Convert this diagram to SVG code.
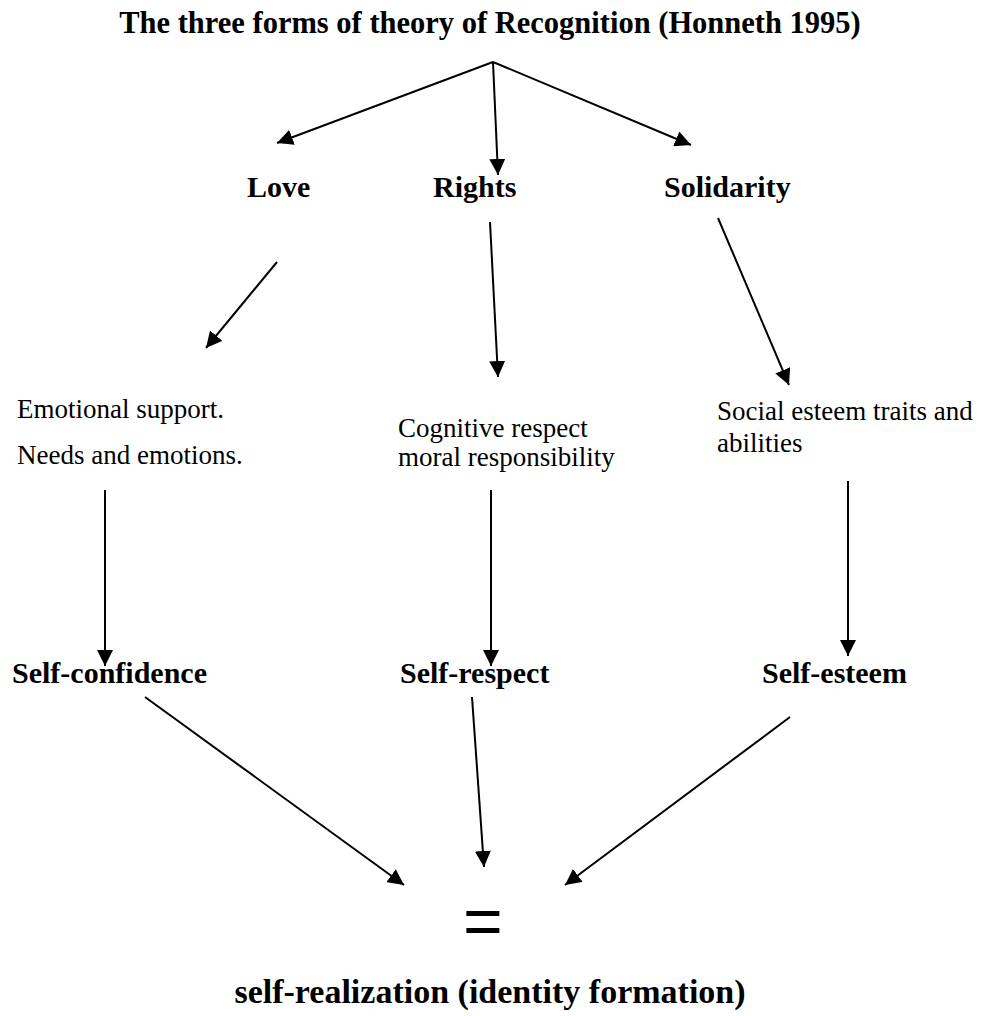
<svg xmlns="http://www.w3.org/2000/svg" width="981" height="1016" viewBox="0 0 981 1016">
<style>
.b{font-family:"Liberation Serif","Times New Roman",serif;font-weight:bold;font-size:30px;fill:#000}
.r{font-family:"Liberation Serif","Times New Roman",serif;font-size:27px;fill:#000}
.eq{font-family:"Liberation Sans",Arial,sans-serif;font-size:68px;fill:#000}
.c line{stroke:#000;stroke-width:2;marker-end:url(#ah)}
</style>
<defs>
<marker id="ah" markerUnits="userSpaceOnUse" markerWidth="17" markerHeight="16" refX="16" refY="8" orient="auto" viewBox="0 0 17 16">
<path d="M0,0 L16,8 L0,16 z" fill="#000"/>
</marker>
</defs>
<rect width="981" height="1016" fill="#fff"/>
<g id="title"><text class="b" x="490" y="33" text-anchor="middle" style="font-size:30.5px">The three forms of theory of Recognition (Honneth 1995)</text></g>
<g id="love"><text class="b" x="247" y="197">Love</text></g>
<g id="rights"><text class="b" x="433" y="197">Rights</text></g>
<g id="solidarity"><text class="b" x="664" y="197">Solidarity</text></g>
<g id="emotional"><text class="r" x="17" y="418">Emotional support.</text><text class="r" x="17" y="464">Needs and emotions.</text></g>
<g id="cognitive"><text class="r" x="398" y="437">Cognitive respect</text><text class="r" x="398" y="466">moral responsibility</text></g>
<g id="social"><text class="r" x="717" y="420">Social esteem traits and</text><text class="r" x="717" y="452">abilities</text></g>
<g id="selfconfidence"><text class="b" x="12" y="683">Self-confidence</text></g>
<g id="selfrespect"><text class="b" x="400" y="683">Self-respect</text></g>
<g id="selfesteem"><text class="b" x="762" y="683">Self-esteem</text></g>
<g id="equals"><text class="eq" x="463" y="945">=</text></g>
<g id="selfrealization"><text class="b" x="490" y="1003" text-anchor="middle" style="font-size:34px">self-realization (identity formation)</text></g>
<g id="connectors" class="c">
<line x1="493" y1="62" x2="277" y2="143"/>
<line x1="493" y1="62" x2="498" y2="175"/>
<line x1="493" y1="62" x2="691" y2="145"/>
<line x1="277" y1="262" x2="206" y2="348"/>
<line x1="490" y1="222" x2="498" y2="377"/>
<line x1="718" y1="218" x2="789" y2="385"/>
<line x1="105" y1="490" x2="105" y2="666"/>
<line x1="491" y1="490" x2="491" y2="666"/>
<line x1="848" y1="481" x2="848" y2="656"/>
<line x1="145" y1="697" x2="404" y2="885"/>
<line x1="472" y1="697" x2="484" y2="867"/>
<line x1="790" y1="717" x2="565" y2="885"/>
</g>
</svg>
